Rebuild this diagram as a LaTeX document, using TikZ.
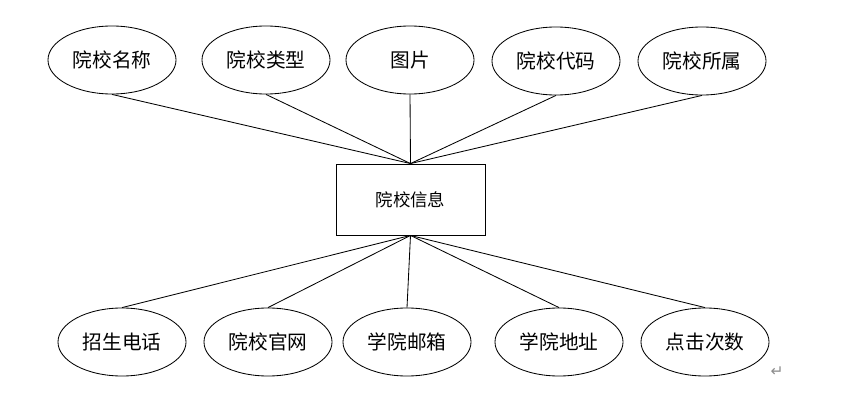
\documentclass[tikz,border=0pt]{standalone}
\usepackage{fontspec}
\newfontfamily\cjk{Noto Sans CJK SC}
\newfontfamily\symfont{DejaVu Sans}
\usetikzlibrary{shapes.geometric}

\begin{document}
\begin{tikzpicture}[
    x=0.025cm,y=-0.025cm,
    line width=0.6pt,
    attr/.style={
        draw=black,ellipse,inner sep=0pt,
        minimum width=3.2cm,minimum height=1.7cm,
        font=\cjk\fontsize{14pt}{16pt}\selectfont
    },
    entity/.style={
        draw=black,rectangle,inner sep=0pt,
        minimum width=3.725cm,minimum height=1.775cm,
        font=\cjk\fontsize{12.4pt}{14pt}\selectfont
    },
    link/.style={draw=black,line width=0.6pt}
]
% canvas in pixel units of the reference, y running downwards
\path[use as bounding box] (0,0) rectangle (848,399);

\node[entity] (info) at (410.5,199.5) {院校信息};

% attributes above the entity
\node[attr] (name)   at (112,60) {院校名称};
\node[attr] (type)   at (266,60) {院校类型};
\node[attr] (photo)  at (410,60) {图片};
\node[attr] (code)   at (556,61) {院校代码};
\node[attr] (belong) at (702,61) {院校所属};

% attributes below the entity
\node[attr] (phone)  at (122,342) {招生电话};
\node[attr] (site)   at (268,342) {院校官网};
\node[attr] (mail)   at (407,342) {学院邮箱};
\node[attr] (addr)   at (559,342) {学院地址};
\node[attr] (clicks) at (705,342) {点击次数};

\draw[link] (name.south)   -- (info.north);
\draw[link] (type.south)   -- (info.north);
\draw[link] (photo.south)  -- (info.north);
\draw[link] (code.south)   -- (info.north);
\draw[link] (belong.south) -- (info.north);

\draw[link] (info.south) -- (phone.north);
\draw[link] (info.south) -- (site.north);
\draw[link] (info.south) -- (mail.north);
\draw[link] (info.south) -- (addr.north);
\draw[link] (info.south) -- (clicks.north);

\node[text=black!45,font=\symfont\fontsize{11pt}{12pt}\selectfont]
    (mark) at (777,372) {↵};
\end{tikzpicture}
\end{document}
